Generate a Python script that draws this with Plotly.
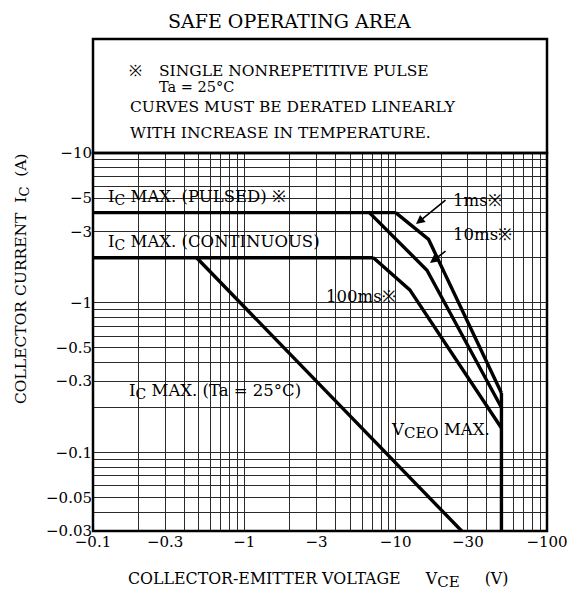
import math
import plotly.graph_objects as go

# ---------------- data ----------------
x_grid = [0.1, 0.2, 0.3, 0.4, 0.5, 0.6, 0.7, 0.8, 0.9,
          1, 2, 3, 4, 5, 6, 7, 8, 9,
          10, 20, 30, 40, 50, 60, 70, 80, 90, 100]
x_labels = {0.1: "−0.1", 0.3: "−0.3", 1: "−1", 3: "−3", 10: "−10", 30: "−30", 100: "−100"}
y_grid = [0.03, 0.04, 0.05, 0.06, 0.07, 0.08, 0.09,
          0.1, 0.2, 0.3, 0.4, 0.5, 0.6, 0.7, 0.8, 0.9,
          1, 2, 3, 4, 5, 6, 7, 8, 9, 10]
y_labels = {10: "−10", 5: "−5", 3: "−3", 1: "−1", 0.5: "−0.5", 0.3: "−0.3",
            0.1: "−0.1", 0.05: "−0.05", 0.03: "−0.03"}

pulsed_v = [0.1, 10]
pulsed_i = [4, 4]
cont_v = [0.1, 7.13]
cont_i = [2, 2]
ms1_v = [10, 16.5, 50]
ms1_i = [4, 2.65, 0.25]
ms10_v = [6.7, 16.1, 50]
ms10_i = [4, 1.65, 0.2]
ms100_v = [7.13, 12.4, 50]
ms100_i = [2, 1.22, 0.146]
dc_v = [0.484, 27.3]
dc_i = [2, 0.03]
vceo_v = [50, 50]
vceo_i = [0.03, 0.25]

# ---------------- layout geometry (pixels) ----------------
W, H = 571, 595
L, R, T, B = 93, 547, 153, 531
PW, PH = R - L, B - T
FONT = "DejaVu Serif"


def px(x):
    return (x - L) / PW


def py(y):
    return (B - y) / PH


def sub(s, size):
    return "<sub><span style='font-size:%dpx'>%s</span></sub>" % (size, s)


fig = go.Figure()
for vx, iy in [(pulsed_v, pulsed_i), (cont_v, cont_i), (ms1_v, ms1_i), (ms10_v, ms10_i),
               (ms100_v, ms100_i), (dc_v, dc_i), (vceo_v, vceo_i)]:
    fig.add_trace(go.Scatter(x=vx, y=iy, mode="lines",
                             line=dict(color="black", width=3.4), showlegend=False,
                             hoverinfo="skip"))

shapes = []
# white boxes behind labels (cover grid)
for (x0, x1, y0, y1) in [(100, 294, 178, 209), (100, 325, 225, 254), (125, 297, 364, 400),
                         (320, 400, 283, 309), (447, 503, 187, 208), (447, 513, 225, 244),
                         (386, 498, 414, 443)]:
    shapes.append(dict(type="rect", xref="paper", yref="paper", x0=px(x0), x1=px(x1),
                       y0=py(y1), y1=py(y0), fillcolor="white", line=dict(width=0),
                       layer="between"))
# plot border
shapes.append(dict(type="rect", xref="paper", yref="paper", x0=0, x1=1, y0=0, y1=1,
                   line=dict(color="black", width=2.5), fillcolor="rgba(0,0,0,0)"))
# notes box border
shapes.append(dict(type="rect", xref="paper", yref="paper", x0=0, x1=1, y0=1, y1=py(39),
                   line=dict(color="black", width=2.5), fillcolor="rgba(0,0,0,0)"))

ann = []


def text(x, y, s, size=15, xanchor="left", **kw):
    ann.append(dict(x=px(x), y=py(y), xref="paper", yref="paper", text=s, showarrow=False,
                    xanchor=xanchor, yanchor="middle",
                    font=dict(family=FONT, size=size, color="black"), **kw))


text(289, 21, "SAFE OPERATING AREA", size=19, xanchor="center")
text(127, 71, "※", size=15.5)
text(157, 71, "SINGLE NONREPETITIVE PULSE", size=15.5)
text(157, 87, "Ta = 25°C", size=14.5)
text(128, 107, "CURVES MUST BE DERATED LINEARLY", size=15.5)
text(128, 133, "WITH INCREASE IN TEMPERATURE.", size=15.5)

LS = 16.5
text(106, 197, "I" + sub("C", 14) + " MAX. (PULSED) ※", size=LS)
text(106, 242, "I" + sub("C", 14) + " MAX. (CONTINUOUS)", size=LS)
text(127, 391, "I" + sub("C", 14) + " MAX. (Ta = 25°C)", size=LS)
text(324, 296, "100ms※", size=LS)
text(451, 200, "1ms※", size=LS)
text(451, 234, "10ms※", size=LS)
text(389, 431, "V" + sub("CEO", 15) + " MAX.", size=LS)

# axis titles
SPX = "\u00a0" * 5
SPY = "\u00a0" * 2
text(318, 580, "COLLECTOR-EMITTER VOLTAGE" + SPX + "V" + sub("CE", 15) + SPX + "(V)",
     size=15.8, xanchor="center")
ann.append(dict(x=px(22), y=py(279), xref="paper", yref="paper",
                text="COLLECTOR CURRENT" + SPY + "I" + sub("C", 13) + SPY + "(A)",
                showarrow=False, textangle=-90, xanchor="center", yanchor="middle",
                font=dict(family=FONT, size=15.5, color="black")))

# arrows
for (hx, hy, tx, ty) in [(416, 224, 447, 199), (430, 263, 447, 250)]:
    ann.append(dict(x=px(hx), y=py(hy), xref="paper", yref="paper", text="",
                    showarrow=True, ax=tx - hx, ay=ty - hy, arrowhead=2, arrowsize=1.1,
                    arrowwidth=1.6, arrowcolor="black"))

fig.update_layout(
    width=W, height=H, margin=dict(l=L, r=W - R, t=T, b=H - B, pad=0, autoexpand=False),
    paper_bgcolor="white", plot_bgcolor="white",
    shapes=shapes, annotations=ann, showlegend=False,
    xaxis=dict(type="log", range=[-1, 2], tickvals=x_grid, automargin=False,
               ticktext=[x_labels.get(v, "") for v in x_grid],
               showgrid=True, gridcolor="#2a2a2a", gridwidth=1, zeroline=False,
               showline=False, ticks="", tickfont=dict(family=FONT, size=15, color="black")),
    yaxis=dict(type="log", range=[math.log10(0.03), 1], tickvals=y_grid, automargin=False,
               ticktext=[y_labels.get(v, "") for v in y_grid],
               showgrid=True, gridcolor="#2a2a2a", gridwidth=1, zeroline=False,
               showline=False, ticks="", tickfont=dict(family=FONT, size=15, color="black")),
)

# remove the browser's default 8px page margin so the figure sits at the window origin
fig.write_html("out.html", config={"displayModeBar": False},
               post_script="document.body.style.margin='0';document.body.style.overflow='hidden';")
